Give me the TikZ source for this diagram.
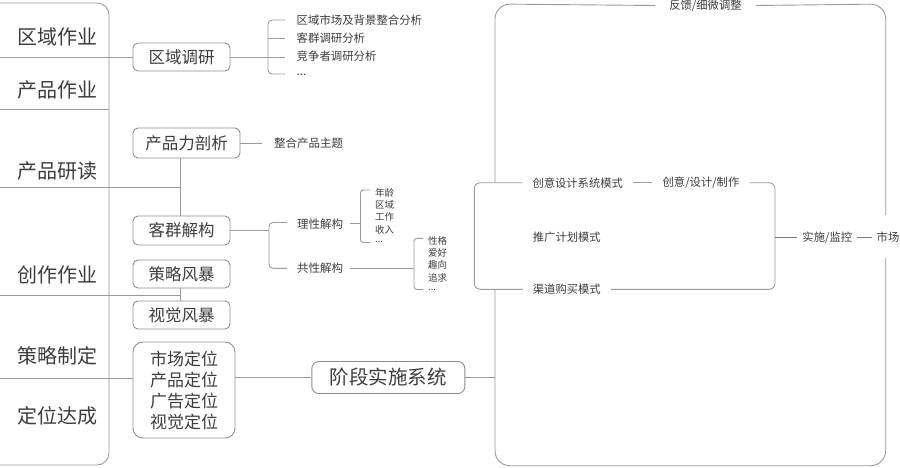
\documentclass[tikz,border=0pt]{standalone}
\usepackage{fontspec}
\setmainfont{Noto Sans CJK SC}
\definecolor{linec}{HTML}{9A9A9A}
\definecolor{boxc}{HTML}{8E8E8E}
\definecolor{txtc}{HTML}{3C3C3C}
\definecolor{thkc}{HTML}{7A7A7A}
\begin{document}
\begin{tikzpicture}[x=1pt,y=-1pt,
  ln/.style={draw=linec,line width=0.9pt},
  thk/.style={draw=thkc,line width=1.4pt},
  box/.style={draw=boxc,line width=0.9pt,rounded corners=5pt,inner sep=0pt,text=txtc},
  big/.style={text=txtc,font=\fontsize{20}{24}\selectfont,inner sep=0pt},
  mid/.style={font=\fontsize{16.5}{20}\selectfont},
  sm/.style={text=txtc,font=\fontsize{11.5}{14}\selectfont,inner sep=0pt},
  smw/.style={text=txtc,font=\fontsize{11.4}{14}\selectfont,inner sep=0pt,anchor=west},
  tiny/.style={text=txtc,font=\fontsize{9.5}{11}\selectfont,inner sep=0pt,anchor=west},
  gap/.style={text=txtc,font=\fontsize{11.3}{14}\selectfont,inner xsep=10pt,inner ysep=0pt},
]
\useasboundingbox (0,0) rectangle (900,467);

% left panel
\draw[ln,rounded corners=12pt] (0,3) -- (109,3) -- (109,465) -- (0,465);
\node[big] (a1) at (57.5,37) {区域作业};
\node[big] (a2) at (57.5,90) {产品作业};
\node[big] (a3) at (57.5,171) {产品研读};
\node[big] (a4) at (57.5,275) {创作作业};
\node[big] (a5) at (57.5,356) {策略制定};
\node[big] (a6) at (57.5,416) {定位达成};

% middle boxes
\node[box,mid,minimum width=97pt,minimum height=28pt] (qydy) at (181.5,57) {区域调研};
\node[box,mid,minimum width=107pt,minimum height=30pt] (cplpx) at (186.5,143) {产品力剖析};
\node[box,mid,minimum width=97pt,minimum height=29pt] (kqjg) at (181.5,230.5) {客群解构};
\node[box,mid,minimum width=97pt,minimum height=28pt] (clfb) at (181.5,274) {策略风暴};
\node[box,mid,minimum width=97pt,minimum height=28pt] (sjfb) at (181.5,315) {视觉风暴};
\node[box,rounded corners=10pt,minimum width=102pt,minimum height=96pt,align=center,
      font=\fontsize{17}{21}\selectfont] (dw) at (184,390) {市场定位\\产品定位\\广告定位\\视觉定位};
\node[box,rounded corners=7pt,minimum width=153pt,minimum height=32pt,
      font=\fontsize{19.5}{24}\selectfont] (jdss) at (388.3,377.5) {阶段实施系统};

% dividers / connectors from the left panel
\coordinate (d1) at (0,57);
\draw[ln] (d1) -- (qydy.west);
\draw[ln] (0,109) -- (109,109);
\coordinate (j1) at (180,187);
\draw[ln] (0,187) -- (j1);
\draw[ln] (cplpx.south -| j1) -- (kqjg.north -| j1);
\coordinate (j2) at (180,295);
\draw[ln] (0,295) -- (j2);
\draw[ln] (clfb.south -| j2) -- (sjfb.north -| j2);
\coordinate (d6) at (0,378);
\draw[ln] (d6) -- (d6 -| dw.west);
\draw[ln] (dw.east |- jdss.west) -- (jdss.west);
\coordinate (ol) at (495,0);
\draw[ln] (jdss.east) -- (jdss.east -| ol);

% 区域调研 bracket
\draw[ln,rounded corners=4pt] (285,20) -- (268,20) -- (268,74) -- (285,74);
\draw[ln] (268,38) -- (285,38);
\draw[ln] (qydy.east) -- (285,57);
\node[smw] (r1) at (296.5,20) {区域市场及背景整合分析};
\node[smw] (r2) at (296.5,38) {客群调研分析};
\node[smw] (r3) at (296.5,56.5) {竞争者调研分析};
\node[smw] (r4) at (296.5,75) {...};

% 产品力剖析
\node[sm,anchor=west,inner xsep=12pt] (zh) at (262,143) {整合产品主题};
\draw[ln] (cplpx.east) -- (zh.west);

% 客群解构 bracket
\coordinate (b2) at (269,230.5);
\draw[ln] (kqjg.east) -- (b2);
\draw[ln,rounded corners=4pt] (287,222.5) -- (269,222.5) -- (269,268.3) -- (287,268.3);
\node[sm,inner xsep=7pt] (lx) at (320,223.8) {理性解构};
\node[sm,inner xsep=7pt] (gx) at (320,268.3) {共性解构};

% 理性 bracket
\draw[ln] (lx.east) -- (360.5,223.8);
\draw[ln,rounded corners=3pt] (370,190) -- (360.5,190) -- (360.5,242.5) -- (370,242.5);
\node[tiny] (l1) at (375,193.3) {年龄};
\node[tiny] (l2) at (375,205.3) {区域};
\node[tiny] (l3) at (375,217.3) {工作};
\node[tiny] (l4) at (375,229.8) {收入};
\node[tiny] (l5) at (375,242) {...};

% 共性 bracket
\draw[ln] (gx.east) -- (414,268.3);
\draw[ln,rounded corners=3pt] (423,238.3) -- (414,238.3) -- (414,289.5) -- (423,289.5);
\node[tiny] (g1) at (428,241) {性格};
\node[tiny] (g2) at (428,253) {爱好};
\node[tiny] (g3) at (428,265.3) {趣向};
\node[tiny] (g4) at (428,277.5) {追求};
\node[tiny] (g5) at (428,290) {...};

% right side labels
\node[gap,inner xsep=14pt] (fk) at (705.5,5.5) {反馈/细微调整};
\node[gap] (cy) at (577.7,182.7) {创意设计系统模式};
\node[gap] (cyz) at (701,182.7) {创意/设计/制作};
\node[gap,anchor=west] (tg) at (522.7,237) {推广计划模式};
\node[gap,anchor=west] (qd) at (522.7,289.3) {渠道购买模式};

% inner rounded frame
\draw[ln,rounded corners=6pt] (cy.west) -- (474.3,182.7) -- (474.3,289.3) -- (qd.west);
\draw[ln] (cy.east) -- (cyz.west);
\draw[ln,rounded corners=6pt] (cyz.east) -- (775,182.7) -- (775,289.3) -- (qd.east);

% outer rounded frame
\draw[ln,rounded corners=15pt] (fk.west) -- (495,4) -- (495,182.7);
\draw[ln,rounded corners=15pt] (495,289.3) -- (495,465.7) -- (885.7,465.7) -- (885.7,258);
\draw[ln,rounded corners=15pt] (885.7,215) -- (885.7,4) -- (fk.east);

% 实施/监控 -> 市场
\node[gap,inner xsep=5pt] (ss) at (827.3,237.3) {实施/监控};
\node[gap,inner xsep=5pt] (sc) at (888,237.3) {市场};
\coordinate (ir) at (775,237.3);
\draw[thk] (ir) -- (ss.west);
\draw[thk] (ss.east) -- (sc.west);
\end{tikzpicture}
\end{document}
